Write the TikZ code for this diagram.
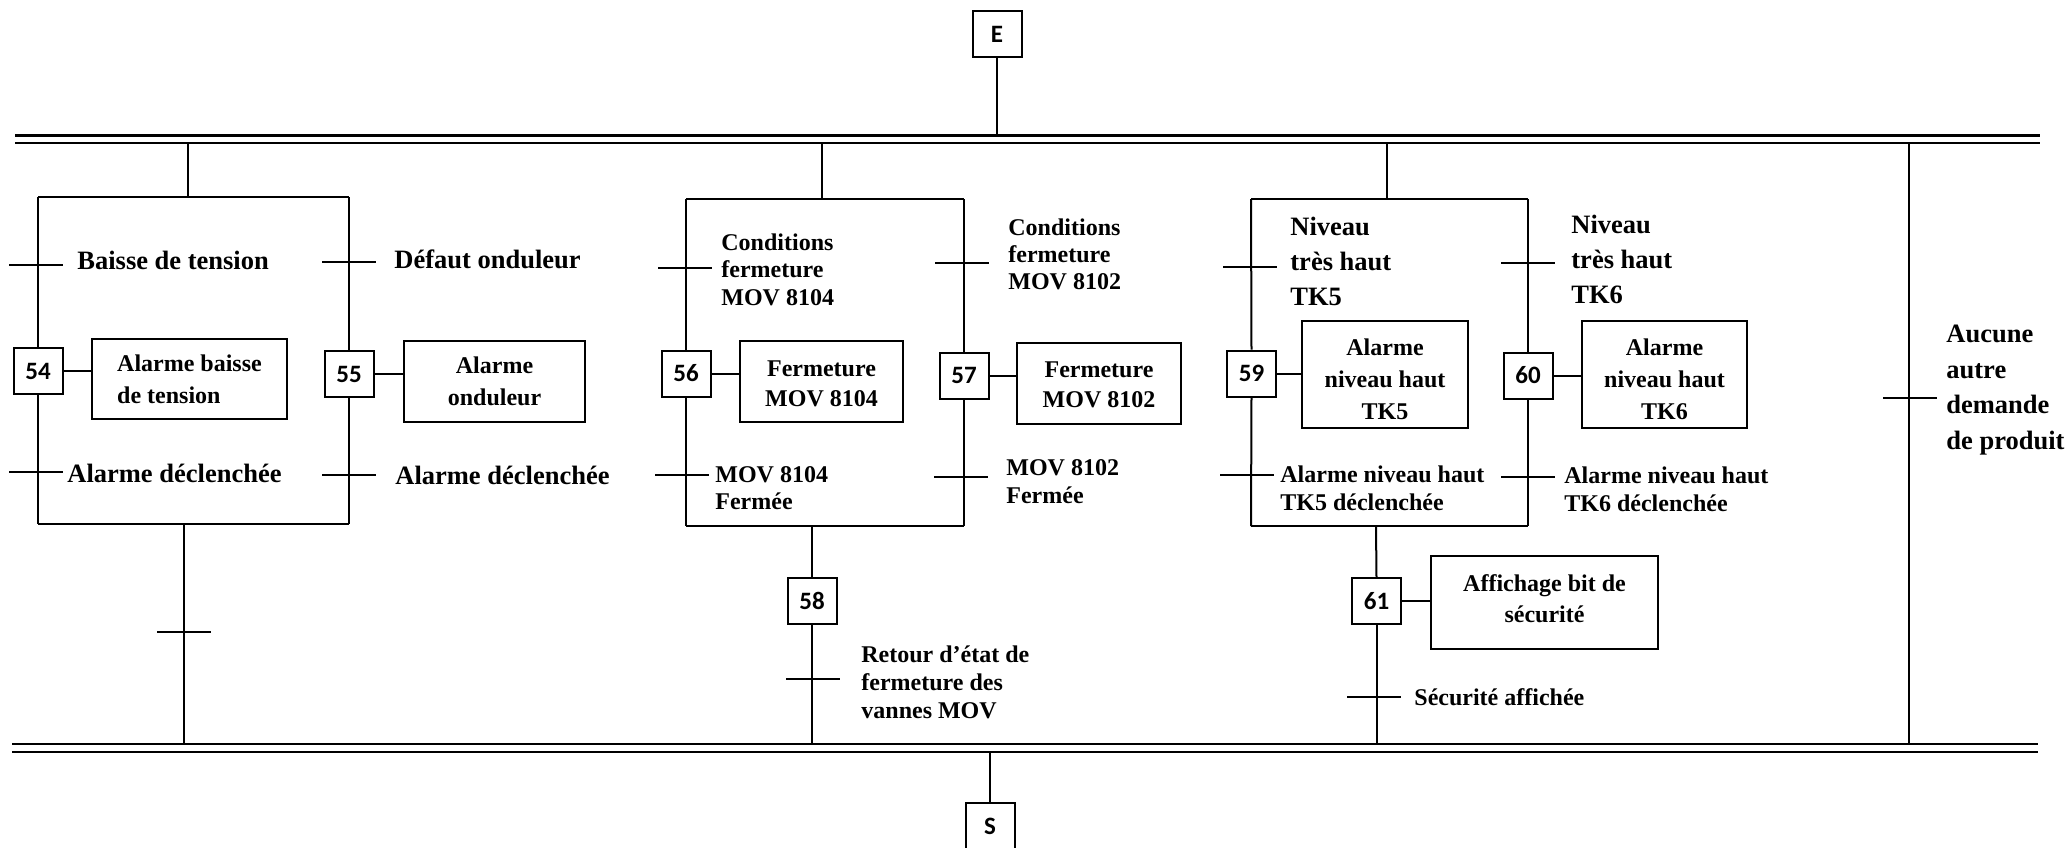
\documentclass[tikz,border=0pt]{standalone}
\usepackage{fontspec}
\setmainfont{Liberation Serif}
\newfontfamily\stepfont{Carlito}
\newcommand\trmark[2]{\draw[trans] ({#1-27},#2) -- ({#1+27},#2);}
\begin{document}
\begin{tikzpicture}[x=0.5pt,y=-0.5pt,
  wire/.style={line width=1pt},
  boxline/.style={line width=1.2pt},
  trans/.style={line width=1.2pt},
  stepbox/.style={draw, line width=1pt, minimum width=24.5pt, minimum height=23pt, inner sep=0pt,
    font=\stepfont\bfseries\fontsize{12.5}{12.5}\selectfont},
  actbox/.style={draw, line width=1pt, inner sep=0pt},
  acttext/.style={inner sep=0pt, align=center, font=\bfseries\fontsize{12}{16}\selectfont},
  lbl/.style={anchor=west, inner sep=0pt, align=left, font=\bfseries\fontsize{12}{14}\selectfont},
  biglbl/.style={anchor=west, inner sep=0pt, align=left, font=\bfseries\fontsize{13.25}{17.5}\selectfont}]
\useasboundingbox (0,0) rectangle (2069,847);

% bars
\coordinate (topA) at (0,135);
\coordinate (topB) at (0,143);
\coordinate (botA) at (0,744);
\coordinate (botB) at (0,752);
\draw[line width=1.5pt] (15,135) -- (2040,135);
\draw[line width=1pt] (15,143) -- (2040,143);
\draw[line width=1.2pt] (12,744) -- (2038,744);
\draw[line width=1.2pt] (12,752) -- (2038,752);

% entry / exit
\node[stepbox] (E) at (997,34) {E};
\draw[wire] (E.south) -- (E.south |- topA);
\node[stepbox] (S) at (990,826) {S};
\draw[wire] (S.north) -- (S.north |- botB);

% ---------- left group ----------
\coordinate (gLtl) at (38,197);
\coordinate (gLtr) at (349,197);
\coordinate (gLbl) at (38,524);
\coordinate (gLbr) at (349,524);
\coordinate (gLin) at (188,197);
\coordinate (gLout) at (184,524);
\draw[boxline] (gLtl) -- (gLtr);
\draw[boxline] (gLbl) -- (gLbr);
\draw[wire] (gLin |- topB) -- (gLin);
\draw[wire] (gLout) -- (gLout |- botA);
\node[stepbox] (s54) at (38,371) {54};
\node[stepbox] (s55) at (349,374) {55};
\node[actbox, minimum width=97.5pt, minimum height=40pt] (a54) at (189.5,379) {};
\node[acttext, align=left] (a54t) at (a54.center) {Alarme baisse\\de tension};
\node[actbox, minimum width=90.5pt, minimum height=40.5pt] (a55) at (494.5,381.5) {};
\node[acttext] (a55t) at (a55.center) {Alarme\\onduleur};
\draw[wire] (gLtl) -- (s54.north);
\draw[wire] (s54.south) -- (gLbl);
\draw[wire] (gLtr) -- (s55.north);
\draw[wire] (s55.south) -- (gLbr);
\draw[wire] (s54.east) -- (s54.east -| a54.west);
\draw[wire] (s55.east) -- (s55.east -| a55.west);
\trmark{36}{265}
\trmark{36}{472}
\trmark{349}{262}
\trmark{349}{475}
\trmark{184}{632}
\node[biglbl] (t54a) at (77,260) {Baisse de tension};
\node[biglbl] (t55a) at (394,259) {Défaut onduleur};
\node[biglbl] (t54b) at (67,473) {Alarme déclenchée};
\node[biglbl] (t55b) at (395,475) {Alarme déclenchée};

% ---------- middle group ----------
\coordinate (gMtl) at (686,199);
\coordinate (gMtr) at (964,199);
\coordinate (gMbl) at (686,526);
\coordinate (gMbr) at (964,526);
\coordinate (gMin) at (822,199);
\coordinate (gMout) at (812,526);
\draw[boxline] (gMtl) -- (gMtr);
\draw[boxline] (gMbl) -- (gMbr);
\draw[wire] (gMin |- topB) -- (gMin);
\node[stepbox] (s56) at (686,373.5) {56};
\node[stepbox] (s57) at (964,375.5) {57};
\node[actbox, minimum width=81.5pt, minimum height=40.5pt] (a56) at (821.5,381.5) {};
\node[acttext, font=\bfseries\fontsize{12}{15}\selectfont] (a56t) at ([yshift=-1.3pt]a56.center) {Fermeture\\MOV 8104};
\node[actbox, minimum width=82pt, minimum height=40.5pt] (a57) at (1099,383.5) {};
\node[acttext, font=\bfseries\fontsize{12}{15}\selectfont] (a57t) at ([yshift=-0.8pt]a57.center) {Fermeture\\MOV 8102};
\draw[wire] (gMtl) -- (s56.north);
\draw[wire] (s56.south) -- (gMbl);
\draw[wire] (gMtr) -- (s57.north);
\draw[wire] (s57.south) -- (gMbr);
\draw[wire] (s56.east) -- (s56.east -| a56.west);
\draw[wire] (s57.east) -- (s57.east -| a57.west);
\node[stepbox] (s58) at (812,601) {58};
\draw[wire] (gMout) -- (s58.north);
\draw[wire] (s58.south) -- (s58.south |- botA);
\trmark{685}{268}
\trmark{682}{475}
\trmark{962}{263}
\trmark{961}{477}
\trmark{813}{679}
\node[lbl, font=\bfseries\fontsize{12}{13.75}\selectfont] (t56a) at (721,269.5) {Conditions\\fermeture\\MOV 8104};
\node[lbl, font=\bfseries\fontsize{12}{13.5}\selectfont] (t57a) at (1008,254) {Conditions\\fermeture\\MOV 8102};
\node[lbl, font=\bfseries\fontsize{12}{13.5}\selectfont] (t56b) at (715,488.5) {MOV 8104\\Fermée};
\node[lbl, font=\bfseries\fontsize{12}{14}\selectfont] (t57b) at (1006,482) {MOV 8102\\Fermée};
\node[lbl] (t58) at (861,682) {Retour d’état de\\fermeture des\\vannes MOV};

% ---------- right group ----------
\coordinate (gRtl) at (1251,199);
\coordinate (gRtr) at (1528,199);
\coordinate (gRbl) at (1251,526);
\coordinate (gRbr) at (1528,526);
\coordinate (gRin) at (1387,199);
\coordinate (gRout) at (1376,526);
\draw[boxline] (gRtl) -- (gRtr);
\draw[boxline] (gRbl) -- (gRbr);
\draw[wire] (gRin |- topB) -- (gRin);
\node[stepbox] (s59) at (1251.5,373.5) {59};
\node[stepbox] (s60) at (1528,375.5) {60};
\node[actbox, minimum width=83pt, minimum height=53.5pt] (a59) at (1385,374.5) {};
\node[acttext] (a59t) at ([yshift=-2.6pt]a59.center) {Alarme\\niveau haut\\TK5};
\node[actbox, minimum width=82.5pt, minimum height=53.5pt] (a60) at (1664.5,374.5) {};
\node[acttext] (a60t) at ([yshift=-2.6pt]a60.center) {Alarme\\niveau haut\\TK6};
\draw[wire] (gRtl) -- (s59.north);
\draw[wire] (s59.south) -- (gRbl);
\draw[wire] (gRtr) -- (s60.north);
\draw[wire] (s60.south) -- (gRbr);
\draw[wire] (s59.east) -- (s59.east -| a59.west);
\draw[wire] (s60.east) -- (s60.east -| a60.west);
\node[stepbox] (s61) at (1376.5,601) {61};
\node[actbox, minimum width=113.5pt, minimum height=46.5pt] (a61) at (1544.5,602.5) {};
\node[acttext, font=\bfseries\fontsize{12}{15.5}\selectfont] (a61t) at ([yshift=2pt]a61.center) {Affichage bit de\\sécurité};
\draw[wire] (gRout) -- (s61.north);
\draw[wire] (s61.south) -- (s61.south |- botA);
\draw[wire] (s61.east) -- (s61.east -| a61.west);
\trmark{1250}{267}
\trmark{1247}{475}
\trmark{1528}{263}
\trmark{1528}{477}
\trmark{1374}{697}
\node[biglbl] (t59a) at (1290,261) {Niveau\\très haut\\TK5};
\node[biglbl] (t60a) at (1571,259) {Niveau\\très haut\\TK6};
\node[lbl] (t59b) at (1280,488) {Alarme niveau haut\\TK5 déclenchée};
\node[lbl] (t60b) at (1564,489) {Alarme niveau haut\\TK6 déclenchée};
\node[lbl] (t61) at (1414,697) {Sécurité affichée};

% ---------- far right branch ----------
\coordinate (fr) at (1909,143);
\draw[wire] (fr) -- (fr |- botA);
\trmark{1910}{398}
\node[biglbl, font=\bfseries\fontsize{13.25}{17.75}\selectfont] (tfr) at (1946,390) {Aucune\\autre\\demande\\de produit};
\end{tikzpicture}
\end{document}
